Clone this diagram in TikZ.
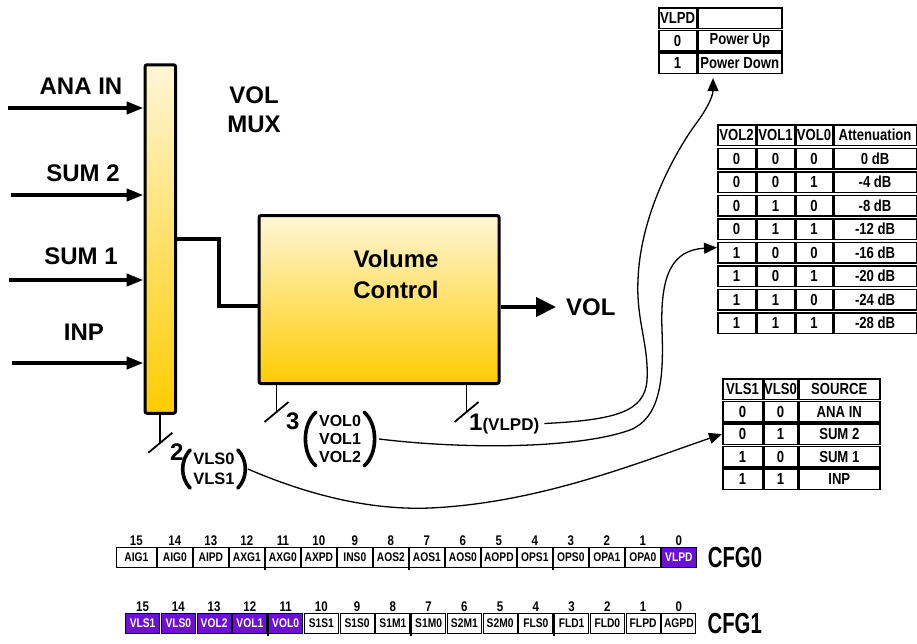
\documentclass[tikz,border=0pt]{standalone}
\usepackage{fontspec}
\setmainfont{Liberation Sans}
\newfontfamily\narrowfont[FakeStretch=0.82]{Liberation Sans}
\newfontfamily\condfont[FakeStretch=0.7]{Liberation Sans}
\usepackage{tikz}
\usetikzlibrary{positioning}
\usetikzlibrary{arrows.meta}

\definecolor{muxtop}{RGB}{255,246,214}
\definecolor{muxbot}{RGB}{255,204,0}
\definecolor{regpurple}{RGB}{108,16,214}

\tikzset{
  biglbl/.style={font=\bfseries\fontsize{24}{29}\selectfont, align=center, inner sep=0pt},
  gradbox/.style={draw, line width=3pt, rounded corners=2pt, top color=muxtop, bottom color=muxbot, inner sep=0pt},
  inarrow/.style={line width=4pt, -{Triangle[length=17pt,width=12pt]}},
  outarrow/.style={line width=4pt, -{Triangle[length=20pt,width=19pt]}},
  wire/.style={line width=4pt},
  bus/.style={line width=1.8pt},
  buswd/.style={font=\bfseries\fontsize{24}{24}\selectfont, inner sep=0pt},
  bitsgrp/.style={font=\bfseries\fontsize{16}{18}\selectfont, align=center, inner sep=3pt},
  paren/.style={line width=3.6pt, line cap=round},
  link/.style={line width=1.3pt, -{Triangle[length=13pt,width=11pt]}},
  tcell/.style={draw, line width=1.6pt, anchor=north west, inner sep=0pt, minimum height=20.5pt,
    font=\narrowfont\bfseries\fontsize{16}{16}\selectfont},
  regcell/.style={draw, line width=1.2pt, anchor=north west, inner sep=0pt, minimum height=20pt,
    font=\narrowfont\bfseries\fontsize{12.5}{12.5}\selectfont},
  bitno/.style={font=\narrowfont\bfseries\fontsize{14}{14}\selectfont, inner sep=0pt},
  nibble/.style={line width=2.6pt},
  cfglbl/.style={font=\condfont\bfseries\fontsize{29}{29}\selectfont, inner sep=0pt},
  busmark/.pic={\draw[bus] (-12,10) -- (12,-10);}
}

\begin{document}
\begin{tikzpicture}[x=1pt,y=-1pt]
\path[use as bounding box, fill=white] (0,0) rectangle (917,643);

% mux with its four inputs
\node[gradbox, minimum width=30.5pt, minimum height=348.5pt] (mux) at (160.3,239) {};
\node[biglbl] (vol mux) at (254,110) {VOL\\MUX};
\coordinate (in ana) at (8,108);
\coordinate (in sum2) at (11,195);
\coordinate (in sum1) at (9,280);
\coordinate (in inp) at (12,363);
\node[biglbl] (lbl ana) at (81,86) {ANA IN};
\node[biglbl] (lbl sum2) at (83,173) {SUM 2};
\node[biglbl] (lbl sum1) at (81,256) {SUM 1};
\node[biglbl] (lbl inp) at (84,332) {INP};
\foreach \c in {ana,sum2,sum1,inp}
  \draw[inarrow] (in \c) -- (in \c -| mux.west);

% volume control block
\node[gradbox, minimum width=240pt, minimum height=168pt] (vc) at (379,299.5) {};
\node[biglbl, font=\bfseries\fontsize{24}{31}\selectfont] (vc text) at (396,274) {Volume\\Control};
\coordinate (jog) at (219,306);
\draw[wire] (mux.east) -| (jog) -- (jog -| vc.west);
\node[biglbl, anchor=west] (vol out) at (566,307) {VOL};
\draw[outarrow] (vol out.west -| vc.east) -- ([xshift=-10pt]vol out.west);

% control buses
\draw[bus] ([xshift=19pt]vc.south west) -- ++(0,27) pic {busmark};
\draw[bus] ([xshift=-34pt]vc.south east) -- ++(0,27) pic {busmark};
\draw[bus] (mux.south) -- ++(0,28) pic {busmark};
\node[buswd, anchor=base west] (w3) at (286,429) {3};
\node[buswd, anchor=base west] (w2) at (170,460) {2};
\node[buswd, anchor=base west] (vlpd lbl) at (469,430) {1{\fontsize{17}{17}\selectfont(VLPD)}};
\node[bitsgrp] (vol bits) at (340,439) {VOL0\\VOL1\\VOL2};
\node[bitsgrp, font=\bfseries\fontsize{16.5}{20}\selectfont] (vls bits) at (214,469) {VLS0\\VLS1};
\draw[paren] (vol bits.north west) .. controls +(-14,12) and +(-14,-12) .. (vol bits.south west);
\draw[paren] (vol bits.north east) .. controls +(14,12) and +(14,-12) .. (vol bits.south east);
\draw[paren] (vls bits.north west) .. controls +(-10,10) and +(-10,-10) .. (vls bits.south west);
\draw[paren] (vls bits.north east) .. controls +(10,10) and +(10,-10) .. (vls bits.south east);

% VLPD table
\node[tcell, minimum width=37.5pt] (pd-0-1) at (658,7) {VLPD};
\node[tcell, minimum width=84pt] (pd-0-2) at (697,7) {};
\foreach \v/\st [count=\r] in {0/Power Up,1/Power Down} {
  \node[tcell, minimum width=37.5pt] (pd-\r-1) at (658,{7+22.5*\r}) {\v};
  \node[tcell, minimum width=84pt] (pd-\r-2) at (697,{7+22.5*\r}) {\st};
}

% attenuation table
\node[tcell, minimum width=37.5pt] (att-0-1) at (717,124) {VOL2};
\node[tcell, minimum width=37.5pt] (att-0-2) at (756,124) {VOL1};
\node[tcell, minimum width=36.5pt] (att-0-3) at (795,124) {VOL0};
\node[tcell, minimum width=82.5pt] (att-0-4) at (833,124) {Attenuation};
\foreach \a/\b/\c/\att [count=\r] in {0/0/0/0 dB,0/0/1/-4 dB,0/1/0/-8 dB,0/1/1/-12 dB,
    1/0/0/-16 dB,1/0/1/-20 dB,1/1/0/-24 dB,1/1/1/-28 dB} {
  \node[tcell, minimum width=37.5pt] (att-\r-1) at (717,{124+23.5*\r}) {\a};
  \node[tcell, minimum width=37.5pt] (att-\r-2) at (756,{124+23.5*\r}) {\b};
  \node[tcell, minimum width=36.5pt] (att-\r-3) at (795,{124+23.5*\r}) {\c};
  \node[tcell, minimum width=82.5pt] (att-\r-4) at (833,{124+23.5*\r}) {\att};
}

% source table
\node[tcell, minimum width=39.5pt] (src-0-1) at (722,378) {VLS1};
\node[tcell, minimum width=33.5pt] (src-0-2) at (763,378) {VLS0};
\node[tcell, minimum width=81pt] (src-0-3) at (798,378) {SOURCE};
\foreach \a/\b/\s [count=\r] in {0/0/ANA IN,0/1/SUM 2,1/0/SUM 1,1/1/INP} {
  \node[tcell, minimum width=39.5pt] (src-\r-1) at (722,{378+22.5*\r}) {\a};
  \node[tcell, minimum width=33.5pt] (src-\r-2) at (763,{378+22.5*\r}) {\b};
  \node[tcell, minimum width=81pt] (src-\r-3) at (798,{378+22.5*\r}) {\s};
}

% links from the buses to the tables
\draw[link] ([xshift=5pt]vlpd lbl.east) .. controls (615,420) and (645,412) .. (647,380)
  .. controls (649,345) and (636,320) .. (638,280)
  .. controls (640,220) and (670,160) .. (695,125)
  .. controls (708,108) and (713,95) .. ([xshift=16pt,yshift=-4pt]pd-2-2.south west);
\draw[link] ([xshift=15pt]vol bits.east) .. controls (470,450) and (580,448) .. (630,430)
  .. controls (660,418) and (664,380) .. (662,330)
  .. controls (660,275) and (672,250) .. ([yshift=5pt]att-5-1.west);
\draw[link] ([xshift=10pt]vls bits.east) .. controls (320,500) and (380,510) .. (430,508)
  .. controls (540,503) and (640,462) .. (src-2-1.west);

% CFG0 register
\foreach \nm/\fc/\tc [count=\i from 0] in {AIG1/white/black,AIG0/white/black,AIPD/white/black,
    AXG1/white/black,AXG0/white/black,AXPD/white/black,INS0/white/black,AOS2/white/black,
    AOS1/white/black,AOS0/white/black,AOPD/white/black,OPS1/white/black,OPS0/white/black,
    OPA1/white/black,OPA0/white/black,VLPD/regpurple/white} {
  \pgfmathsetmacro\xl{\i==0 ? 116 : 157+36*(\i-1)}
  \pgfmathsetmacro\w{\i==0 ? 39.5 : 34.5}
  \pgfmathtruncatemacro\bit{15-\i}
  \node[regcell, minimum width=\w pt, fill=\fc, text=\tc] (c0-\i) at (\xl,547) {\nm};
  \node[bitno, above=1.5pt of c0-\i] (n0-\i) {\bit};
}
\node[cfglbl, right=11pt of c0-15] (cfg0) {CFG0};

% CFG1 register
\foreach \nm/\fc/\tc [count=\i from 0] in {VLS1/regpurple/white,VLS0/regpurple/white,
    VOL2/regpurple/white,VOL1/regpurple/white,VOL0/regpurple/white,S1S1/white/black,
    S1S0/white/black,S1M1/white/black,S1M0/white/black,S2M1/white/black,S2M0/white/black,
    FLS0/white/black,FLD1/white/black,FLD0/white/black,FLPD/white/black,AGPD/white/black} {
  \pgfmathsetmacro\xl{125+35.75*\i}
  \pgfmathtruncatemacro\bit{15-\i}
  \node[regcell, minimum width=34pt, fill=\fc, text=\tc] (c1-\i) at (\xl,613) {\nm};
  \node[bitno, above=1.5pt of c1-\i] (n1-\i) {\bit};
}
\node[cfglbl, right=11pt of c1-15] (cfg1) {CFG1};

\foreach \i in {4,8,12} {
  \draw[nibble] (c0-\i.north west) -- ([yshift=-2pt]c0-\i.south west);
  \draw[nibble] (c1-\i.north west) -- ([yshift=-2pt]c1-\i.south west);
}
\end{tikzpicture}
\end{document}
